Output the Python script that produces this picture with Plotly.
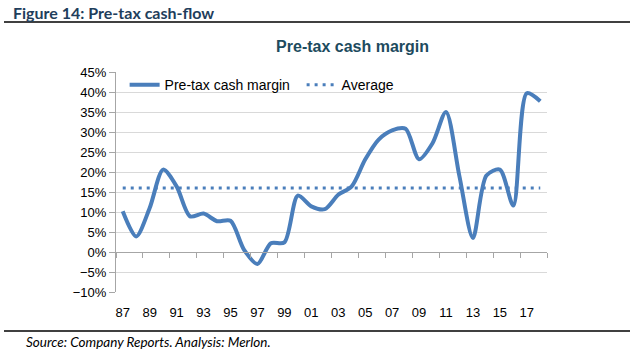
import plotly.graph_objects as go

years = list(range(1987, 2019))
margin = [10.2, 3.9, 11.0, 20.6, 16.4, 8.9, 9.6, 7.7, 7.8, 0.6, -3.0, 2.2, 2.4, 14.1, 11.4, 10.7,
          14.3, 16.4, 23.1, 28.1, 30.4, 30.8, 23.2, 27.2, 35.0, 18.9, 3.5, 19.1, 20.6, 11.6, 39.7, 37.7]
average_value = 16.0
average = [average_value] * len(years)
label_years = list(range(1987, 2018, 2))
label_text = [f"{y % 100:02d}" for y in label_years]
tick_bounds = [y - 0.5 for y in range(1987, 2020, 2)]

blue = "#4A7EBB"
grid = "#D9D9D9"
axis_gray = "#A6A6A6"
W, H = 630, 350
L, R, T, B = 116, 83, 72, 58

fig = go.Figure()
fig.add_trace(go.Scatter(x=years, y=margin, mode="lines", name="Pre-tax cash margin",
                         line=dict(color=blue, width=4, shape="spline", smoothing=0.8),
                         xaxis="x", yaxis="y"))
fig.add_trace(go.Scatter(x=years, y=average, mode="lines", name="Average",
                         line=dict(color=blue, width=3, dash="3px,5px"),
                         xaxis="x2", yaxis="y"))

yr = [-10, 45]
fig.update_layout(
    width=W, height=H,
    margin=dict(l=L, r=R, t=T, b=B, pad=0),
    paper_bgcolor="white", plot_bgcolor="white",
    font=dict(family="Liberation Sans, Arial", size=13, color="#000000"),
    showlegend=True,
    legend=dict(orientation="h", x=0.02, y=1.013, xanchor="left", yanchor="top",
                bgcolor="rgba(0,0,0,0)", font=dict(size=14), itemwidth=30,
                entrywidth=132, entrywidthmode="pixels", tracegroupgap=0),
    title=dict(text="<b>Pre-tax cash margin</b>", x=234 / W, xanchor="left",
               y=1 - 46 / H, yanchor="middle", xref="paper",
               font=dict(family="Liberation Sans, Arial", size=16, color="#1D4B5E")),
    xaxis=dict(range=[1986.5, 2018.5], tickvals=label_years, ticktext=label_text,
               showline=False, showgrid=False, zeroline=False, ticks="",
               ticklabelstandoff=11, tickfont=dict(size=13)),
    xaxis2=dict(range=[1986.5, 2018.5], overlaying="x", matches="x", anchor="free",
                position=(0 - yr[0]) / (yr[1] - yr[0]), side="bottom",
                showline=True, linecolor=axis_gray, linewidth=1,
                ticks="outside", ticklen=5, tickcolor=axis_gray, tickwidth=1,
                tickvals=tick_bounds, showticklabels=False, showgrid=False, zeroline=False),
    yaxis=dict(range=yr, dtick=5, tick0=0, ticksuffix="%", showgrid=True, gridcolor=grid,
               gridwidth=1, showline=True, linecolor=axis_gray, linewidth=1,
               ticks="outside", ticklen=6, tickcolor=axis_gray, zeroline=False,
               tickfont=dict(size=13)),
)

fig.add_annotation(text="<b>Figure 14: Pre-tax cash-flow</b>", xref="paper", yref="paper",
                   x=-L / (W - L - R) + 11 / (W - L - R), y=1 + (T - 12) / (H - T - B),
                   xanchor="left", yanchor="middle", showarrow=False,
                   font=dict(family="Lato, Open Sans", size=16, color="#1F3E5C"))
fig.add_annotation(text="<i>Source: Company Reports. Analysis: Merlon.</i>", xref="paper", yref="paper",
                   x=-L / (W - L - R) + 24 / (W - L - R), y=-(342 - (H - B)) / (H - T - B),
                   xanchor="left", yanchor="middle", showarrow=False,
                   font=dict(family="Lato, Open Sans", size=13.5, color="#000000"))

def px_x(p):
    return (p - L) / (W - L - R)

def px_y(p):
    return 1 - (p - T) / (H - T - B)

for yy in (22, 331):
    fig.add_shape(type="line", xref="paper", yref="paper", x0=px_x(4), x1=px_x(630),
                  y0=px_y(yy), y1=px_y(yy), line=dict(color="black", width=1.5))

fig.write_html("out.html")
